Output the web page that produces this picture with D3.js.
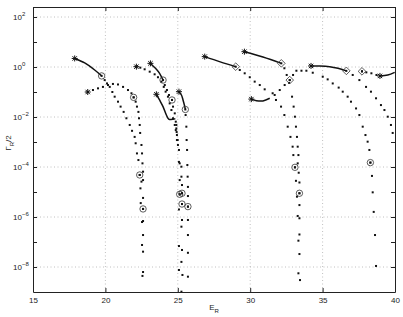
<!DOCTYPE html>
<html>
<head>
<meta charset="utf-8">
<script src="https://cdn.jsdelivr.net/npm/d3@7"></script>
<style>
  body { margin: 0; background: #fff; }
  svg { display: block; font-family: "Liberation Sans", Arial, sans-serif; }
</style>
</head>
<body>
<script>
// resonance trajectories, each: solid start segment + dotted continuation, [E_R, Gamma_R/2]
var xTicks = [15, 20, 25, 30, 35, 40];
var yLabelExps = [2, 0, -2, -4, -6, -8];
var yTickExps = [2, 1, 0, -1, -2, -3, -4, -5, -6, -7, -8];

var startPoints = [[17.88, 2.2], [18.78, 0.10], [22.14, 1.03], [23.11, 1.4], [23.52, 0.081],
    [25.08, 0.103], [26.86, 2.6], [29.60, 4.1], [30.08, 0.052], [34.20, 1.1], [38.96, 0.44]];

var circlePoints = [[19.74, 0.44], [22.37, 4.8e-5], [21.95, 0.061], [22.60, 2.1e-6], [23.98, 0.30],
    [24.60, 0.048], [25.13, 8.1e-6], [25.29, 8.9e-6], [25.29, 3.3e-6], [25.52, 0.020], [25.70, 2.6e-6],
    [33.09, 9.7e-5], [33.40, 8.9e-6], [38.30, 1.5e-4]];

var diamondPoints = [[29.00, 1.03], [32.15, 1.4], [32.73, 0.30], [36.64, 0.70], [37.72, 0.67]];

var line1 = [[17.88, 2.2], [18.57, 1.45], [19.26, 0.76], [19.74, 0.44]];
var dots1 = [[19.95, 0.30], [20.11, 0.22], [20.30, 0.16], [20.48, 0.10], [20.64, 0.065], [20.87, 0.041],
    [21.05, 0.026], [21.26, 0.016], [21.45, 0.0089], [21.68, 0.0048], [21.84, 0.0028], [22.02, 0.0016],
    [22.09, 8.9e-4], [22.18, 3.5e-4], [22.28, 1.9e-4], [22.37, 4.8e-5], [22.49, 2.6e-5], [22.42, 1.4e-5],
    [22.44, 3.6e-6], [22.53, 6.3e-7], [22.53, 7.6e-8], [22.60, 6.3e-9]];

var line2 = [];
var dots2 = [[18.78, 0.10], [19.14, 0.12], [19.49, 0.14], [19.83, 0.16], [20.18, 0.19], [20.52, 0.21],
    [20.87, 0.20], [21.22, 0.16], [21.56, 0.12], [21.80, 0.089], [21.95, 0.061], [22.09, 0.041],
    [22.18, 0.026], [22.28, 0.016], [22.32, 0.0089], [22.37, 0.0048], [22.40, 0.0023], [22.49, 7.6e-4],
    [22.53, 3.5e-4], [22.56, 1.4e-4], [22.60, 6.5e-5], [22.60, 3.0e-5], [22.60, 5.8e-6], [22.60, 2.1e-6],
    [22.60, 6.9e-7], [22.60, 1.9e-7], [22.60, 4.1e-8], [22.56, 4.4e-9]];

var line3 = [];
var dots3 = [[22.14, 1.03], [22.41, 0.94], [22.71, 0.81], [23.06, 0.65], [23.40, 0.51], [23.63, 0.39],
    [23.87, 0.26], [24.03, 0.16], [24.16, 0.103], [24.32, 0.065], [24.44, 0.035], [24.56, 0.019],
    [24.67, 0.0089], [24.79, 0.0048], [24.86, 0.0030], [24.94, 0.0012], [25.08, 1.6e-4], [25.13, 3.0e-5],
    [25.13, 8.1e-6], [25.08, 2.0e-6], [25.08, 6.9e-8], [25.08, 7.6e-9]];

var line4 = [[23.11, 1.4], [23.29, 1.1], [23.52, 0.81], [23.74, 0.56], [23.98, 0.30]];
var dots4 = [[24.10, 0.19], [24.25, 0.12], [24.39, 0.076], [24.60, 0.048], [24.67, 0.026], [24.79, 0.014],
    [24.86, 0.0065], [24.90, 0.0035], [24.94, 0.0019], [25.01, 7.6e-4], [25.13, 1.4e-4], [25.25, 4.1e-5],
    [25.29, 8.9e-6], [25.29, 7.6e-7], [25.29, 4.8e-8], [25.32, 4.8e-9]];

var line5 = [[23.52, 0.081], [23.74, 0.048], [23.98, 0.026], [24.21, 0.012], [24.37, 0.0083],
    [24.67, 0.0081], [24.83, 0.0086]];
var dots5 = [[24.90, 0.0048], [24.92, 0.0025], [24.99, 0.0012], [25.08, 4.8e-4], [25.25, 1.03e-4],
    [25.29, 1.9e-5], [25.29, 3.3e-6], [25.25, 4.1e-7], [25.25, 1.6e-8], [25.25, 1.03e-9]];

var line6 = [[25.08, 0.103], [25.25, 0.076], [25.36, 0.048], [25.48, 0.026], [25.52, 0.020]];
var dots6 = [[25.54, 0.012], [25.59, 0.0041], [25.61, 0.0012], [25.64, 4.8e-4], [25.66, 1.2e-4],
    [25.68, 4.1e-5], [25.70, 1.6e-5], [25.70, 6.9e-6], [25.70, 2.6e-6], [25.70, 7.6e-7], [25.70, 1.9e-7],
    [25.70, 3.7e-8], [25.70, 4.1e-9]];

var line7 = [[26.86, 2.6], [27.93, 1.6], [29.00, 1.03]];
var dots7 = [[29.28, 0.76], [29.62, 0.56], [29.97, 0.39], [30.31, 0.26], [30.66, 0.19], [31.00, 0.128],
    [31.55, 0.089], [31.78, 0.048], [32.13, 0.026], [32.36, 0.012], [32.59, 0.0041], [32.78, 0.0016],
    [32.93, 6.5e-4], [32.98, 3.0e-4], [33.09, 9.7e-5], [33.16, 2.8e-5], [33.23, 6.5e-6], [33.28, 1.1e-6],
    [33.33, 1.13e-7], [33.33, 5.6e-9]];

var line8 = [[29.60, 4.1], [30.88, 2.5], [32.15, 1.4]];
var dots8 = [[32.36, 0.89], [32.52, 0.48], [32.69, 0.23], [32.89, 0.065], [33.00, 0.026], [33.09, 0.0103],
    [33.16, 0.0041], [33.23, 0.0016], [33.28, 6.5e-4], [33.33, 3.0e-4], [33.28, 1.4e-4], [33.35, 5.9e-5],
    [33.40, 2.4e-5], [33.40, 8.9e-6], [33.40, 3.0e-6], [33.40, 8.9e-7], [33.40, 2.0e-7], [33.40, 3.3e-8],
    [33.44, 3.0e-9]];

var line9 = [[30.08, 0.052], [30.43, 0.045], [30.88, 0.044], [31.35, 0.056]];
var dots9 = [[31.69, 0.076], [32.04, 0.12], [32.38, 0.19], [32.73, 0.30], [32.96, 0.48], [33.19, 0.71],
    [33.54, 0.71], [33.88, 0.71], [34.32, 0.59], [35.01, 0.41], [35.35, 0.32], [35.70, 0.22], [36.11, 0.15],
    [36.39, 0.103], [36.73, 0.065], [36.96, 0.041], [37.31, 0.022], [37.54, 0.012], [37.77, 0.0041],
    [37.96, 0.0019], [38.11, 0.00103], [38.23, 4.8e-4], [38.30, 1.5e-4], [38.41, 4.4e-5], [38.46, 9.7e-6],
    [38.53, 1.6e-6], [38.62, 1.9e-7], [38.69, 1.1e-8]];

var line10 = [[34.20, 1.1], [34.80, 1.1], [35.49, 1.03], [36.06, 0.89], [36.64, 0.70]];
var dots10 = [[37.08, 0.48], [37.54, 0.30], [38.00, 0.16], [38.34, 0.103], [38.69, 0.056], [39.03, 0.030],
    [39.27, 0.019], [39.50, 0.0103], [39.72, 0.0048], [39.84, 0.0023]];

var line11 = [[38.96, 0.44], [39.50, 0.48], [39.98, 0.61]];
var dots11 = [[37.72, 0.67], [38.02, 0.61], [38.37, 0.56], [38.72, 0.48]];

var lines = [line1, line2, line3, line4, line5, line6, line7, line8, line9, line10, line11];
var dots = [dots1, dots2, dots3, dots4, dots5, dots6, dots7, dots8, dots9, dots10, dots11];

(function() {
    var width = 403, height = 317;
    var left = 33, right = 395, top = 7, bottom = 292;

    var x = d3.scaleLinear().domain([15, 40]).range([left, right]);
    var y = d3.scaleLog().domain([1e-9, Math.pow(10, 2.4)]).range([bottom, top]);

    var svg = d3.select("body").append("svg")
        .attr("width", width)
        .attr("height", height);

    svg.append("defs").append("clipPath").attr("id", "plot")
        .append("rect")
        .attr("x", left).attr("y", top)
        .attr("width", right - left).attr("height", bottom - top);

    // grid
    var grid = svg.append("g")
        .attr("stroke", "#b0b0b0")
        .attr("stroke-width", 0.8)
        .attr("stroke-dasharray", "1,2.5");
    grid.selectAll(".gx")
        .data(xTicks.slice(1, -1))
        .enter().append("line")
        .attr("x1", x).attr("x2", x)
        .attr("y1", top).attr("y2", bottom);
    grid.selectAll(".gy")
        .data(yLabelExps)
        .enter().append("line")
        .attr("x1", left).attr("x2", right)
        .attr("y1", function(d) { return y(Math.pow(10, d)); })
        .attr("y2", function(d) { return y(Math.pow(10, d)); });

    // axes (ticks pointing inward on all four sides)
    var yTickVals = yTickExps.map(function(e) { return Math.pow(10, e); });
    var axes = [
        [d3.axisBottom(x).tickValues(xTicks).tickFormat(d3.format("d")), "translate(0," + bottom + ")"],
        [d3.axisTop(x).tickValues(xTicks).tickFormat(""), "translate(0," + top + ")"],
        [d3.axisLeft(y).tickValues(yTickVals).tickFormat(""), "translate(" + left + ",0)"],
        [d3.axisRight(y).tickValues(yTickVals).tickFormat(""), "translate(" + right + ",0)"]
    ];
    axes.forEach(function(a) {
        var g = svg.append("g")
            .attr("transform", a[1])
            .call(a[0].tickSizeInner(-4).tickSizeOuter(0).tickPadding(5));
        g.select(".domain").attr("stroke", "#222").attr("stroke-width", 1);
        g.selectAll(".tick line").attr("stroke", "#222");
        g.selectAll("text").attr("font-size", 8).attr("fill", "#222")
            .attr("font-family", "Liberation Sans, Arial, sans-serif");
    });

    // y tick labels with exponents
    var ylab = svg.append("g").attr("font-size", 8).attr("fill", "#222");
    yLabelExps.forEach(function(e) {
        var t = ylab.append("text")
            .attr("x", 13)
            .attr("y", y(Math.pow(10, e)) + 3);
        t.append("tspan").text("10");
        t.append("tspan").attr("font-size", 6).attr("dy", -4)
            .text(e < 0 ? "\u2212" + (-e) : e);
    });

    // axis titles
    var xt = svg.append("text")
        .attr("x", (left + right) / 2)
        .attr("y", 310)
        .attr("text-anchor", "middle")
        .attr("font-size", 8).attr("fill", "#222");
    xt.append("tspan").text("E");
    xt.append("tspan").attr("font-size", 6).attr("dy", 2.5).text("R");

    var yt = svg.append("text")
        .attr("transform", "translate(11,143) rotate(-90)")
        .attr("text-anchor", "middle")
        .attr("font-size", 8).attr("fill", "#222");
    yt.append("tspan").text("\u0393");
    yt.append("tspan").attr("font-size", 6).attr("dy", 2.5).text("R");
    yt.append("tspan").attr("dy", -2.5).text("/2");

    var plot = svg.append("g").attr("clip-path", "url(#plot)");

    var line = d3.line()
        .x(function(d) { return x(d[0]); })
        .y(function(d) { return y(d[1]); })
        .curve(d3.curveMonotoneX);

    plot.selectAll(".traj")
        .data(lines.filter(function(l) { return l.length > 1; }))
        .enter().append("path")
        .attr("d", d3.line()
            .x(function(d) { return x(d[0]); })
            .y(function(d) { return y(d[1]); })
            .curve(d3.curveCatmullRom))
        .attr("fill", "none")
        .attr("stroke", "#111")
        .attr("stroke-width", 1.5);

    var allDots = [].concat.apply([], dots);
    plot.selectAll(".dot")
        .data(allDots)
        .enter().append("rect")
        .attr("x", function(d) { return x(d[0]) - 1; })
        .attr("y", function(d) { return y(d[1]) - 1; })
        .attr("width", 2)
        .attr("height", 2)
        .attr("fill", "#111");

    // circle markers with centre dot
    var circ = plot.selectAll(".circ")
        .data(circlePoints)
        .enter().append("g")
        .attr("transform", function(d) { return "translate(" + x(d[0]) + "," + y(d[1]) + ")"; });
    circ.append("circle").attr("r", 3.2).attr("fill", "none").attr("stroke", "#333").attr("stroke-width", 0.8);
    circ.append("rect").attr("x", -1).attr("y", -1).attr("width", 2).attr("height", 2).attr("fill", "#111");

    // diamond markers
    var dia = plot.selectAll(".dia")
        .data(diamondPoints)
        .enter().append("g")
        .attr("transform", function(d) { return "translate(" + x(d[0]) + "," + y(d[1]) + ")"; });
    dia.append("path").attr("d", "M0,-3.8L3.8,0L0,3.8L-3.8,0Z")
        .attr("fill", "none").attr("stroke", "#333").attr("stroke-width", 0.8);
    dia.append("rect").attr("x", -1).attr("y", -1).attr("width", 2).attr("height", 2).attr("fill", "#111");

    // asterisk start markers
    var ast = plot.selectAll(".ast")
        .data(startPoints)
        .enter().append("path")
        .attr("transform", function(d) { return "translate(" + x(d[0]) + "," + y(d[1]) + ")"; })
        .attr("d", "M-3,0H3M0,-3V3M-2.2,-2.2L2.2,2.2M-2.2,2.2L2.2,-2.2")
        .attr("stroke", "#111")
        .attr("stroke-width", 1);
})();
</script>
</body>
</html>
